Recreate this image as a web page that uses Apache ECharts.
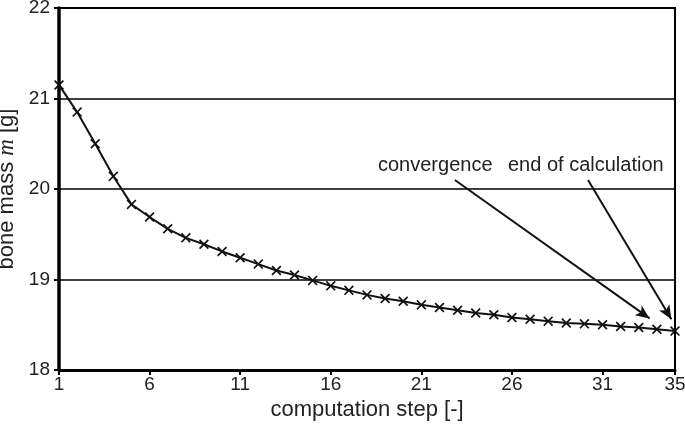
<!DOCTYPE html>
<html>
<head>
<meta charset="utf-8">
<script src="https://cdn.jsdelivr.net/npm/echarts@6/dist/echarts.min.js"></script>
<style>
  html, body { margin: 0; padding: 0; background: #fff; }
  #chart { width: 685px; height: 428px; }
</style>
</head>
<body>
<div id="chart"></div>
<script>
// computation steps 1..35 and bone mass
var steps = [1, 2, 3, 4, 5, 6, 7, 8, 9, 10, 11, 12, 13, 14, 15, 16, 17, 18,
  19, 20, 21, 22, 23, 24, 25, 26, 27, 28, 29, 30, 31, 32, 33, 34, 35];
var boneMass = [21.15, 20.85, 20.50, 20.14, 19.83, 19.69, 19.56, 19.46, 19.39, 19.31,
  19.24, 19.17, 19.10, 19.05, 18.99, 18.93, 18.88, 18.83, 18.79, 18.76,
  18.72, 18.69, 18.66, 18.63, 18.61, 18.58, 18.56, 18.54, 18.52, 18.51,
  18.50, 18.48, 18.47, 18.45, 18.43];

// arrows for the two notes, [step, mass] from -> to
var convergenceArrow = [[22.85, 20.10], [33.6, 18.57]];
var endArrow = [[30.2, 20.10], [34.8, 18.56]];

var chartDom = document.getElementById('chart');
var myChart = echarts.init(chartDom);
var option;

var crossPath = 'path://M0,1.2L1.2,0L5,3.8L8.8,0L10,1.2L6.2,5L10,8.8L8.8,10L5,6.2L1.2,10L0,8.8L3.8,5Z';
var font = 'Liberation Sans, Arial, sans-serif';

option = {
  animation: false,
  textStyle: { fontFamily: font },
  grid: {
    left: 59,
    right: 10,
    top: 8,
    bottom: 58,
    containLabel: false,
    outerBoundsMode: 'none',
    show: true,
    borderColor: '#000',
    borderWidth: 2
  },
  xAxis: {
    type: 'value',
    min: 1,
    max: 35,
    interval: 5,
    name: 'computation step [-]',
    nameLocation: 'middle',
    nameGap: 29,
    nameTextStyle: { fontSize: 22, color: '#222' },
    axisLine: { lineStyle: { color: '#000', width: 3 } },
    axisTick: { show: true, length: 5, lineStyle: { color: '#000', width: 2 } },
    axisLabel: { fontSize: 19, color: '#222', margin: 5 },
    splitLine: { show: false }
  },
  yAxis: {
    type: 'value',
    min: 18,
    max: 22,
    interval: 1,
    name: '{a|bone mass }{m|m}{a| [g]}',
    nameLocation: 'middle',
    nameGap: 30,
    nameTextStyle: {
      rich: {
        a: { fontSize: 22, color: '#222', fontFamily: font },
        m: { fontSize: 23, color: '#222', fontStyle: 'italic', fontFamily: 'Liberation Serif, Times New Roman, serif' }
      }
    },
    axisLine: { show: true, lineStyle: { color: '#000', width: 3.5 } },
    axisTick: { show: true, length: 5, lineStyle: { color: '#000', width: 2 } },
    axisLabel: { fontSize: 19, color: '#222', margin: 9 },
    splitLine: { show: true, lineStyle: { color: '#000', width: 1.5 } }
  },
  series: [
    {
      type: 'line',
      data: steps.map(function (s, i) { return [s, boneMass[i]]; }),
      symbol: crossPath,
      symbolSize: 10,
      showAllSymbol: true,
      lineStyle: { color: '#111', width: 2 },
      itemStyle: { color: '#111' },
      markLine: {
        silent: true,
        symbol: ['none', 'arrow'],
        symbolSize: [9, 14],
        label: { show: false },
        lineStyle: { color: '#111', width: 2, type: 'solid' },
        data: [
          [{ coord: convergenceArrow[0] }, { coord: convergenceArrow[1] }],
          [{ coord: endArrow[0] }, { coord: endArrow[1] }]
        ]
      }
    }
  ],
  graphic: [
    {
      type: 'text',
      left: 378,
      top: 155,
      style: { text: 'convergence', fontSize: 20, fill: '#222', fontFamily: font }
    },
    {
      type: 'text',
      left: 508,
      top: 155,
      style: { text: 'end of calculation', fontSize: 20, fill: '#222', fontFamily: font }
    }
  ]
};

option && myChart.setOption(option);
</script>
</body>
</html>
